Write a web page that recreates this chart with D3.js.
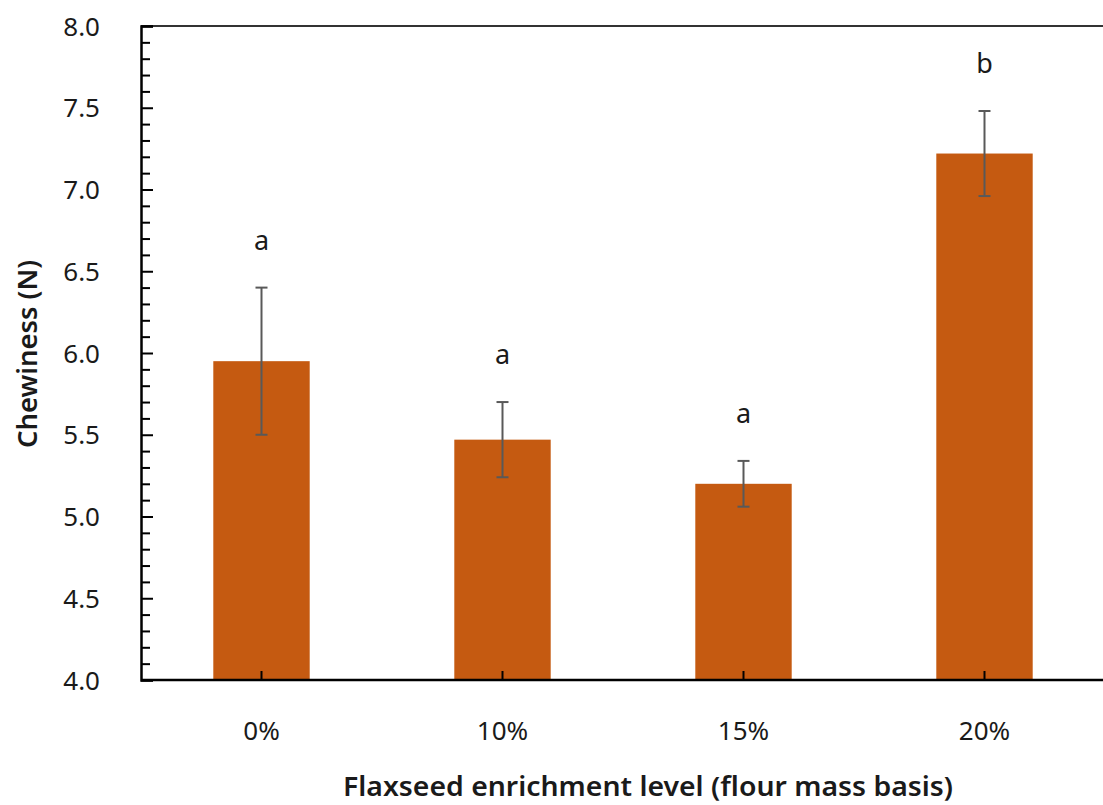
<!DOCTYPE html>
<html>
<head>
<meta charset="utf-8">
<script src="https://cdn.jsdelivr.net/npm/d3@7"></script>
<style>
  html, body { margin: 0; padding: 0; background: #ffffff; }
  svg { display: block; }
  text { font-family: "Noto Sans", "Open Sans", sans-serif; fill: #1a1a1a; }
</style>
</head>
<body>
<svg id="chart" width="1103" height="805"></svg>
<script>
// Chewiness by flaxseed enrichment level
const categories = ["0%", "10%", "15%", "20%"];
const means      = [5.95, 5.47, 5.20, 7.22];
const errors     = [0.45, 0.23, 0.14, 0.26];
const letters    = ["a", "a", "a", "b"];
const yTicks     = [4.0, 4.5, 5.0, 5.5, 6.0, 6.5, 7.0, 7.5, 8.0];

const svg = d3.select("#chart");
const W = 1103, H = 805;
const plotLeft = 141, plotRight = 1105, plotTop = 26, plotBottom = 680;

const x = d3.scaleBand().domain(categories).range([plotLeft, plotRight]).padding(0);
const y = d3.scaleLinear().domain([4.0, 8.0]).range([plotBottom, plotTop]);
const barW = x.bandwidth() * 0.4;

// bars
svg.append("g").selectAll("rect")
  .data(categories)
  .join("rect")
  .attr("x", (d) => x(d) + x.bandwidth() / 2 - barW / 2)
  .attr("width", barW)
  .attr("y", (d, i) => y(means[i]))
  .attr("height", (d, i) => y(4.0) - y(means[i]))
  .attr("fill", "#C55A11");

// error bars
const eg = svg.append("g").attr("stroke", "#595959").attr("stroke-width", 2);
categories.forEach((c, i) => {
  const cx = x(c) + x.bandwidth() / 2;
  const hi = y(means[i] + errors[i]), lo = y(means[i] - errors[i]);
  eg.append("line").attr("x1", cx).attr("x2", cx).attr("y1", hi).attr("y2", lo);
  eg.append("line").attr("x1", cx - 6).attr("x2", cx + 6).attr("y1", hi).attr("y2", hi);
  eg.append("line").attr("x1", cx - 6).attr("x2", cx + 6).attr("y1", lo).attr("y2", lo);
});

// significance letters
svg.append("g").selectAll("text")
  .data(categories)
  .join("text")
  .attr("x", (d) => x(d) + x.bandwidth() / 2)
  .attr("y", (d, i) => y(means[i] + errors[i]) - 38)
  .attr("text-anchor", "middle")
  .attr("font-size", 27)
  .text((d, i) => letters[i]);

// top frame line
svg.append("line")
  .attr("x1", plotLeft).attr("x2", W).attr("y1", plotTop).attr("y2", plotTop)
  .attr("stroke", "#333333").attr("stroke-width", 2);

// y axis: major ticks with labels, minor ticks every 0.1
const yAxis = d3.axisRight(y).tickValues(yTicks).tickSize(12).tickFormat(d3.format(".1f"));
const gy = svg.append("g").attr("transform", `translate(${plotLeft},0)`).call(yAxis);
gy.select(".domain").attr("stroke", "#000").attr("stroke-width", 2.5);
gy.selectAll(".tick line").attr("stroke", "#000").attr("stroke-width", 2);
gy.selectAll(".tick text")
  .attr("x", -41).attr("text-anchor", "end").attr("dy", "0.35em")
  .attr("font-size", 26).attr("fill", "#262626");

const minor = d3.range(40, 81).map((v) => v / 10).filter((v) => Math.round(v * 10) % 5 !== 0);
const gm = svg.append("g").attr("transform", `translate(${plotLeft},0)`)
  .call(d3.axisRight(y).tickValues(minor).tickSize(9).tickFormat(""));
gm.select(".domain").remove();
gm.selectAll(".tick line").attr("stroke", "#000").attr("stroke-width", 2);

// x axis
const xAxis = d3.axisTop(x).tickSize(9);
const gx = svg.append("g").attr("transform", `translate(0,${plotBottom})`).call(xAxis);
gx.select(".domain").attr("d", `M${plotLeft},0H${W}`).attr("stroke", "#000").attr("stroke-width", 2.5);
gx.selectAll(".tick line").attr("stroke", "#000").attr("stroke-width", 2);
gx.selectAll(".tick text")
  .attr("y", 60).attr("dy", 0)
  .attr("font-size", 26).attr("fill", "#262626");

// axis titles
svg.append("text")
  .attr("x", 648).attr("y", 796)
  .attr("text-anchor", "middle")
  .attr("font-size", 27).attr("font-weight", 600)
  .attr("textLength", 610).attr("lengthAdjust", "spacingAndGlyphs")
  .text("Flaxseed enrichment level (flour mass basis)");

svg.append("text")
  .attr("transform", `translate(37,354) rotate(-90)`)
  .attr("text-anchor", "middle")
  .attr("font-size", 27).attr("font-weight", 600)
  .attr("textLength", 188).attr("lengthAdjust", "spacingAndGlyphs")
  .text("Chewiness (N)");
</script>
</body>
</html>
